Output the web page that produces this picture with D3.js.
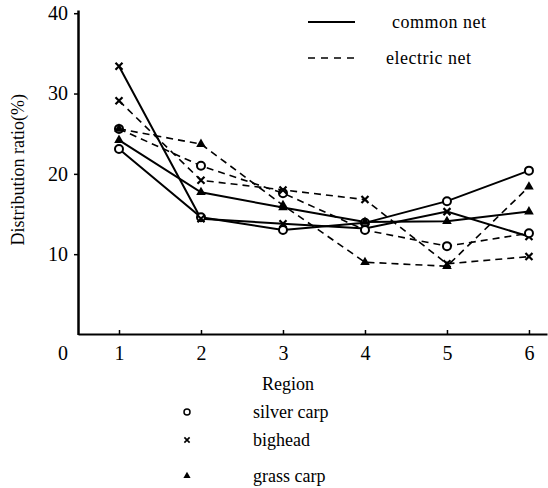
<!DOCTYPE html>
<html><head><meta charset="utf-8">
<script src="https://cdn.jsdelivr.net/npm/d3@7"></script>
<style>
body{margin:0;background:#fff;}
text{font-family:"Liberation Serif","Times New Roman",serif;fill:#000;}
</style></head>
<body>
<svg id="c" width="548" height="488"></svg>
<script>
const regions = [1, 2, 3, 4, 5, 6];
const xTicks = [1, 2, 3, 4, 5, 6];
const yTicks = [10, 20, 30, 40];
const species = ["silver carp", "bighead", "grass carp"];
const nets = ["common net", "electric net"];
// common net
const silverCommon  = [23.1, 14.6, 13.0, 13.9, 16.6, 20.4];
const bigheadCommon = [33.4, 14.4, 13.8, 13.2, 15.3, 12.2];
const grassCommon   = [24.2, 17.7, 15.8, 14.0, 14.1, 15.3];
// electric net
const silverElectric  = [25.6, 21.0, 17.6, 13.0, 11.0, 12.6];
const bigheadElectric = [29.1, 19.2, 18.0, 16.8, 8.8, 9.7];
const grassElectric   = [25.6, 23.7, 16.1, 9.0, 8.5, 18.4];

const series = [
  {sp:0, net:0, v:silverCommon},
  {sp:1, net:0, v:bigheadCommon},
  {sp:2, net:0, v:grassCommon},
  {sp:0, net:1, v:silverElectric},
  {sp:1, net:1, v:bigheadElectric},
  {sp:2, net:1, v:grassElectric}
];

const svg = d3.select("#c");
const x = d3.scaleLinear().domain([0.5, 6.22]).range([78, 547]);
const y = d3.scaleLinear().domain([0, 40.4]).range([334.5, 10]);

// axes
const gy = svg.append("g").attr("transform","translate(78,0)")
  .call(d3.axisLeft(y).tickValues(yTicks).tickFormat(d3.format("d")).tickSize(4).tickSizeOuter(0).tickPadding(6));
gy.select(".domain").attr("stroke-width",2.5);
gy.selectAll(".tick line").attr("stroke-width",1.5);
gy.selectAll("text").style("font-size","20px").attr("font-family",null);

const gx = svg.append("g").attr("transform","translate(0,334)")
  .call(d3.axisBottom(x).tickValues(xTicks).tickFormat(d3.format("d")).tickSize(-4).tickSizeOuter(0).tickPadding(12));
gx.select(".domain").attr("stroke-width",2);
gx.selectAll(".tick line").attr("stroke-width",1.5);
gx.selectAll("text").style("font-size","20px").attr("font-family",null);
svg.append("text").attr("x", x(0.5)-15).attr("y", 360).attr("text-anchor","middle")
  .style("font-size","20px").text("0");

svg.append("text").attr("transform","translate(24,"+y(20.5)+") rotate(-90)")
  .attr("text-anchor","middle").style("font-size","18px").text("Distribution ratio(%)");
svg.append("text").attr("x", (x(3)+x(4))/2 - 36).attr("y", 390).attr("text-anchor","middle")
  .style("font-size","18px").text("Region");

// lines
const line = d3.line().x((d,i)=>x(regions[i])).y(d=>y(d));
svg.append("g").selectAll("path").data(series).join("path")
  .attr("d", s=>line(s.v)).attr("fill","none").attr("stroke","#000")
  .attr("stroke-width", s=>s.net===0?2:1.6)
  .attr("stroke-dasharray", s=>s.net===0?null:"7,5");

// markers
function drawMarker(g, sp, cx, cy, k){
  k = k || 1;
  if(sp===0){
    g.append("circle").attr("cx",cx).attr("cy",cy).attr("r",4*k)
      .attr("fill","#fff").attr("stroke","#000").attr("stroke-width",2*k);
  } else if(sp===1){
    const s=3.5*k;
    g.append("path").attr("d",`M${cx-s},${cy-s}L${cx+s},${cy+s}M${cx-s},${cy+s}L${cx+s},${cy-s}`)
      .attr("stroke","#000").attr("stroke-width",2.2*k);
  } else {
    g.append("path").attr("d", d3.symbol(d3.symbolTriangle, 40*k*k)())
      .attr("transform",`translate(${cx},${cy})`).attr("fill","#000");
  }
}
const mg = svg.append("g");
series.forEach(s=>{
  s.v.forEach((v,i)=>drawMarker(mg, s.sp, x(regions[i]), y(v)));
});

// top legend
const lg = svg.append("g");
nets.forEach((n,i)=>{
  const ly = 22 + i*36;
  lg.append("line").attr("x1",308).attr("x2",355).attr("y1",ly).attr("y2",ly)
    .attr("stroke","#000").attr("stroke-width",i===0?2:1.6)
    .attr("stroke-dasharray", i===0?null:"7,6");
  lg.append("text").attr("x", i===0?392:386).attr("y", ly+6).style("font-size","18px")
    .style("letter-spacing","0.5px").text(n);
});

// bottom legend
const bl = svg.append("g");
species.forEach((sp,i)=>{
  const ly = [412, 440, 476][i];
  drawMarker(bl, i, 187, ly, 0.75);
  bl.append("text").attr("x",253).attr("y", ly+6).style("font-size","18px").text(sp);
});
</script>
</body></html>
